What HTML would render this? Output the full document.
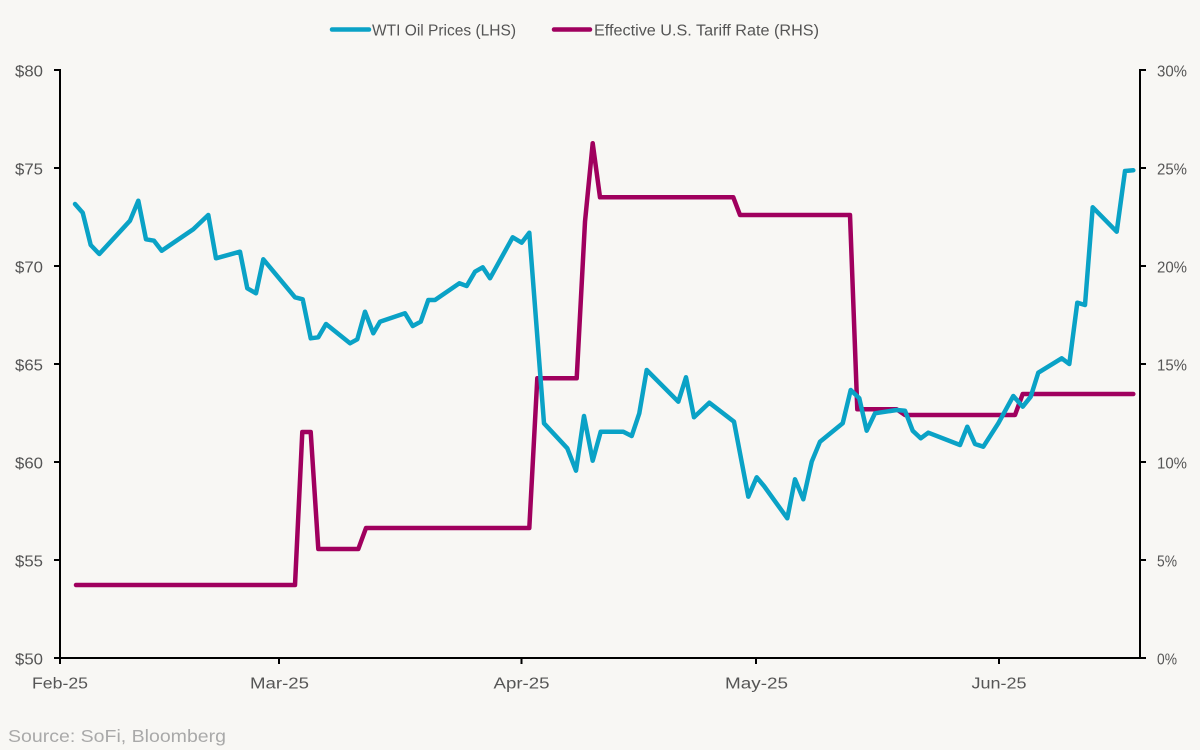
<!DOCTYPE html>
<html>
<head>
<meta charset="utf-8">
<style>
html,body{margin:0;padding:0;background:#f8f7f4;}
svg{display:block;}
text{font-family:"Liberation Sans",sans-serif;}
</style>
</head>
<body>
<svg width="1200" height="750" viewBox="0 0 1200 750" xmlns="http://www.w3.org/2000/svg">
<rect width="1200" height="750" fill="#f8f7f4"/>

<!-- Legend -->
<line x1="332" y1="29.5" x2="369" y2="29.5" stroke="#0aa2c6" stroke-width="4.5" stroke-linecap="round"/>
<text x="372" y="35.5" font-size="15.5" fill="#555" textLength="144" lengthAdjust="spacingAndGlyphs">WTI Oil Prices (LHS)</text>
<line x1="554" y1="29.5" x2="590" y2="29.5" stroke="#a0005e" stroke-width="4.5" stroke-linecap="round"/>
<text x="594" y="35.5" font-size="15.5" fill="#555" textLength="225" lengthAdjust="spacingAndGlyphs">Effective U.S. Tariff Rate (RHS)</text>

<!-- Axes -->
<g stroke="#000" stroke-width="2" fill="none">
<line x1="60" y1="69" x2="60" y2="659"/>
<line x1="59" y1="658" x2="1141" y2="658"/>
<line x1="1140" y1="69" x2="1140" y2="659"/>
<line x1="54" y1="70" x2="60" y2="70"/>
<line x1="54" y1="168" x2="60" y2="168"/>
<line x1="54" y1="266" x2="60" y2="266"/>
<line x1="54" y1="364" x2="60" y2="364"/>
<line x1="54" y1="462" x2="60" y2="462"/>
<line x1="54" y1="560" x2="60" y2="560"/>
<line x1="54" y1="658" x2="60" y2="658"/>
<line x1="1140" y1="70" x2="1146" y2="70"/>
<line x1="1140" y1="168" x2="1146" y2="168"/>
<line x1="1140" y1="266" x2="1146" y2="266"/>
<line x1="1140" y1="364" x2="1146" y2="364"/>
<line x1="1140" y1="462" x2="1146" y2="462"/>
<line x1="1140" y1="560" x2="1146" y2="560"/>
<line x1="1140" y1="658" x2="1146" y2="658"/>
<line x1="60" y1="658" x2="60" y2="664"/>
<line x1="279" y1="658" x2="279" y2="664"/>
<line x1="521.5" y1="658" x2="521.5" y2="664"/>
<line x1="756" y1="658" x2="756" y2="664"/>
<line x1="999" y1="658" x2="999" y2="664"/>
</g>

<!-- Left labels -->
<g font-size="15.5" fill="#555">
<text x="15" y="76.5" textLength="28" lengthAdjust="spacingAndGlyphs">$80</text>
<text x="15" y="174.5" textLength="28" lengthAdjust="spacingAndGlyphs">$75</text>
<text x="15" y="272.5" textLength="28" lengthAdjust="spacingAndGlyphs">$70</text>
<text x="15" y="370.5" textLength="28" lengthAdjust="spacingAndGlyphs">$65</text>
<text x="15" y="468.5" textLength="28" lengthAdjust="spacingAndGlyphs">$60</text>
<text x="15" y="566.5" textLength="28" lengthAdjust="spacingAndGlyphs">$55</text>
<text x="15" y="664.5" textLength="28" lengthAdjust="spacingAndGlyphs">$50</text>
</g>
<!-- Right labels -->
<g font-size="15.5" fill="#555">
<text x="1157" y="76.5" textLength="30" lengthAdjust="spacingAndGlyphs">30%</text>
<text x="1157" y="174.5" textLength="30" lengthAdjust="spacingAndGlyphs">25%</text>
<text x="1157" y="272.5" textLength="30" lengthAdjust="spacingAndGlyphs">20%</text>
<text x="1157" y="370.5" textLength="30" lengthAdjust="spacingAndGlyphs">15%</text>
<text x="1157" y="468.5" textLength="30" lengthAdjust="spacingAndGlyphs">10%</text>
<text x="1157" y="566.5" textLength="20" lengthAdjust="spacingAndGlyphs">5%</text>
<text x="1157" y="664.5" textLength="20" lengthAdjust="spacingAndGlyphs">0%</text>
</g>
<!-- X labels -->
<g font-size="15.5" fill="#555">
<text x="32" y="688.5" textLength="56" lengthAdjust="spacingAndGlyphs">Feb-25</text>
<text x="250" y="688.5" textLength="59" lengthAdjust="spacingAndGlyphs">Mar-25</text>
<text x="493.5" y="688.5" textLength="56" lengthAdjust="spacingAndGlyphs">Apr-25</text>
<text x="725" y="688.5" textLength="63" lengthAdjust="spacingAndGlyphs">May-25</text>
<text x="971.5" y="688.5" textLength="55" lengthAdjust="spacingAndGlyphs">Jun-25</text>
</g>

<text x="8" y="742" font-size="17.5" fill="#a9a9a9" textLength="218" lengthAdjust="spacingAndGlyphs">Source: SoFi, Bloomberg</text>

<!-- Tariff series -->
<polyline fill="none" stroke="#a0005e" stroke-width="4.5" stroke-linejoin="round" stroke-linecap="round"
points="76,585 295,585 302.3,432 310.7,432 318.3,549 358.3,549 366,528 529.3,528 537.3,378.3 576.7,378.3 585,221.7 592.7,143.3 600,197.3 733.3,197.3 740,215 850,215 857.3,409.3 896.7,409.3 905,415 1015,415 1022.7,394 1133.3,394"/>

<!-- Oil series -->
<polyline fill="none" stroke="#0aa2c6" stroke-width="4.5" stroke-linejoin="round" stroke-linecap="round"
points="75,204 82.7,212.7 90.7,245 99.3,254 130,220.7 138.3,200.7 146,239.3 154,240.7 161.7,250.7 193.3,229.3 208.3,215 216,258.3 240,251.7 247.3,288.3 256,293.3 263.3,259.3 295,297.3 302.7,299.3 310.7,338.3 318.3,337.3 326,324 350,343.3 357.3,339.3 365,311.7 373.3,333.3 380,321.7 405,313.3 412.7,326 420.7,321.7 428.3,300 435,300 459.3,283.3 466.7,286 475,271.7 482.7,267.3 490,278.3 512.7,237.3 521.7,242.7 529.3,232.7 544,423.3 567.3,448.3 576,470.7 584,416 592.7,460.7 600.7,431.7 623.3,431.7 631.7,436 639.3,413.3 646.7,370 678.3,401.7 686,377.3 694,417.3 709.3,402.7 734,421.7 748.3,496.7 756.7,477.3 764,486 787.3,518.3 795,479.3 803.3,499.3 811.7,461.7 820,441.7 842.7,423.3 850.7,390 859.3,398.3 866.7,430.7 875,413.3 896.7,410 905,410.7 912.7,430.7 920.7,438.3 928.3,432.7 960,445 967.3,426.7 975,444 983.3,446.7 998.3,423.3 1013.3,396 1022.7,406.7 1030.7,396.7 1038.3,372.7 1061.7,358.3 1069.3,364 1077.3,302.7 1085,305 1092.7,207.3 1116.7,231.7 1125,171 1133.3,170.3"/>
</svg>
</body>
</html>
